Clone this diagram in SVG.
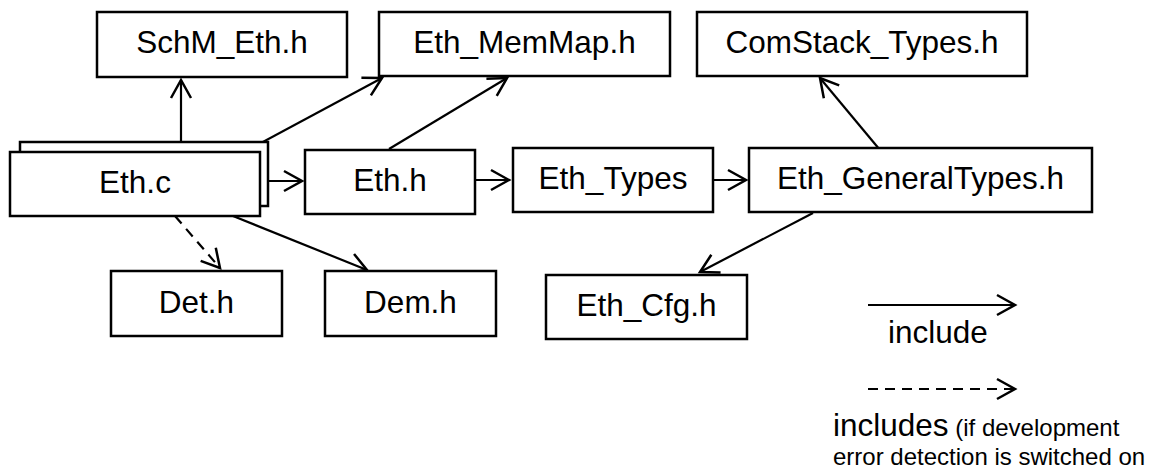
<svg xmlns="http://www.w3.org/2000/svg" width="1149" height="472" viewBox="0 0 1149 472">
  <style>
    .box { fill: #ffffff; stroke: #000000; stroke-width: 2.5; }
    .lbl { font-family: "Liberation Sans", Arial, sans-serif; font-size: 31.5px; fill: #000000; text-anchor: middle; }
    .leg { font-family: "Liberation Sans", Arial, sans-serif; fill: #000000; }
    .edge { fill: none; stroke: #000000; stroke-width: 2.2; marker-end: url(#arr); }
    .dash { stroke-dasharray: 10 7; }
  </style>
  <defs>
    <marker id="arr" markerUnits="userSpaceOnUse" markerWidth="24" markerHeight="26" viewBox="-20 -13 24 26" refX="0" refY="0" orient="auto">
      <path d="M-18,-10 L0,0 L-18,10" fill="none" stroke="#000000" stroke-width="2.5" stroke-dasharray="none"/>
    </marker>
  </defs>
  <rect width="1149" height="472" fill="#ffffff"/>

  <g id="connectors">
    <line class="edge" x1="181" y1="152" x2="181" y2="80"/>
    <line class="edge" x1="248" y1="150" x2="382" y2="78"/>
    <line class="edge" x1="260" y1="181" x2="302" y2="181"/>
    <line class="edge" x1="389" y1="149" x2="507" y2="78"/>
    <line class="edge" x1="475" y1="180" x2="509" y2="180"/>
    <line class="edge" x1="713" y1="180" x2="746" y2="180"/>
    <line class="edge" x1="880" y1="150" x2="820" y2="78"/>
    <line class="edge" x1="813" y1="213" x2="700" y2="272"/>
    <line class="edge dash" x1="175" y1="216" x2="220" y2="268"/>
    <line class="edge" x1="233" y1="216" x2="367" y2="270"/>
  </g>

  <g id="schm_eth">
    <rect class="box" x="97" y="12" width="250" height="65"/>
    <text class="lbl" x="222" y="53">SchM_Eth.h</text>
  </g>
  <g id="eth_memmap">
    <rect class="box" x="379" y="12" width="291" height="64"/>
    <text class="lbl" x="524.5" y="53">Eth_MemMap.h</text>
  </g>
  <g id="comstack_types">
    <rect class="box" x="697" y="12" width="330" height="64"/>
    <text class="lbl" x="862" y="53">ComStack_Types.h</text>
  </g>
  <g id="eth_c">
    <rect class="box" x="20" y="142" width="248" height="64"/>
    <rect class="box" x="10" y="152" width="250" height="64"/>
    <text class="lbl" x="135" y="193">Eth.c</text>
  </g>
  <g id="eth_h">
    <rect class="box" x="305" y="150" width="170" height="64"/>
    <text class="lbl" x="390" y="191">Eth.h</text>
  </g>
  <g id="eth_types">
    <rect class="box" x="513" y="148" width="200" height="64"/>
    <text class="lbl" x="613" y="189">Eth_Types</text>
  </g>
  <g id="eth_generaltypes">
    <rect class="box" x="749" y="148" width="343" height="64"/>
    <text class="lbl" x="920.5" y="189">Eth_GeneralTypes.h</text>
  </g>
  <g id="det_h">
    <rect class="box" x="111" y="271" width="171" height="65"/>
    <text class="lbl" x="196.5" y="313">Det.h</text>
  </g>
  <g id="dem_h">
    <rect class="box" x="325" y="271" width="171" height="65"/>
    <text class="lbl" x="410.5" y="313">Dem.h</text>
  </g>
  <g id="eth_cfg">
    <rect class="box" x="546" y="275" width="201" height="64"/>
    <text class="lbl" x="646.5" y="316">Eth_Cfg.h</text>
  </g>

  <g id="legend">
    <line class="edge" x1="868" y1="305" x2="1015" y2="305"/>
    <text class="leg" x="888" y="343" font-size="31.5">include</text>
    <line class="edge dash" x1="868" y1="389" x2="1015" y2="389"/>
    <text class="leg" x="833" y="436" font-size="31.5">includes<tspan font-size="24"> (if development</tspan></text>
    <text class="leg" x="833" y="465" font-size="24">error detection is switched on</text>
  </g>
</svg>
